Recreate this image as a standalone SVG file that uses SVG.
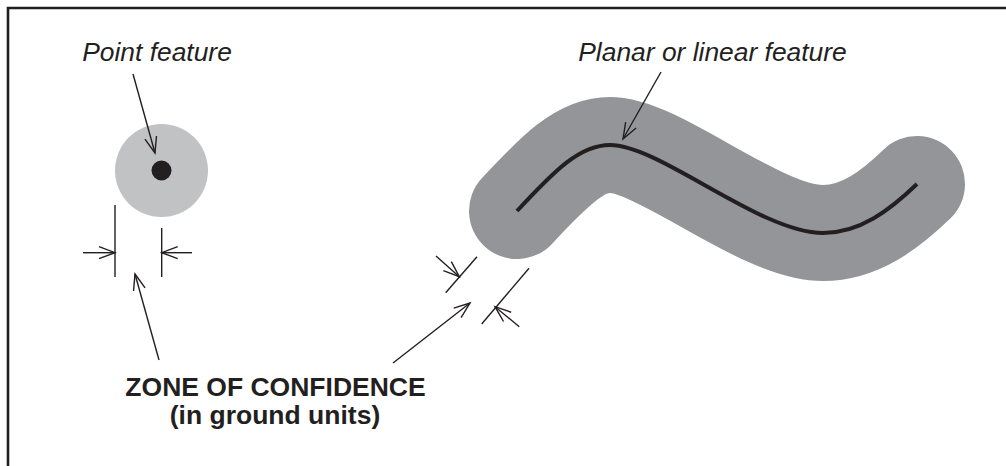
<svg xmlns="http://www.w3.org/2000/svg" width="1006" height="466" viewBox="0 0 1006 466">
<style>
.lbl{font-family:"Liberation Sans",Arial,sans-serif;fill:#231f20;text-anchor:middle}
.it{font-style:italic;font-size:26.4px}
.bd{font-weight:bold;font-size:26.5px}
.ln{stroke:#231f20;stroke-width:1.4;fill:none}
.ar{stroke:#231f20;stroke-width:1.4;fill:none;marker-end:url(#ah)}
</style>
<defs>
<marker id="ah" markerUnits="userSpaceOnUse" markerWidth="20" markerHeight="16" viewBox="-17 -8 20 16" refX="0" refY="0" orient="auto">
<path d="M-16,-6 L0,0 L-16,6" fill="none" stroke="#231f20" stroke-width="1.4"/>
</marker>
</defs>
<rect width="1006" height="466" fill="#ffffff"/>
<g id="frame">
<path d="M8,466 V8 H1006" fill="none" stroke="#231f20" stroke-width="2.6"/>
</g>
<g id="point-feature">
<circle cx="161.5" cy="170.5" r="46.5" fill="#c1c2c4"/>
<circle cx="161.5" cy="170.5" r="10" fill="#231f20"/>
</g>
<g id="linear-feature">
<path d="M517,211 C555,170 580,145 610,145 C660,145 760,233 823,233 C860,233 890,210 917,184" fill="none" stroke="#939598" stroke-width="96" stroke-linecap="round"/>
<path d="M517,211 C555,170 580,145 610,145 C660,145 760,233 823,233 C860,233 890,210 917,184" fill="none" stroke="#231f20" stroke-width="4"/>
</g>
<g id="labels">
<text class="lbl it" x="157" y="61">Point feature</text>
<text class="lbl it" x="712.5" y="61">Planar or linear feature</text>
<text class="lbl bd" x="275.5" y="396">ZONE OF CONFIDENCE</text>
<text class="lbl bd" x="275" y="424">(in ground units)</text>
</g>
<g id="connectors">
<line class="ar" x1="133" y1="74" x2="155" y2="153"/>
<line class="ar" x1="661" y1="72" x2="623" y2="139"/>
<line class="ln" x1="115" y1="205" x2="115" y2="277"/>
<line class="ln" x1="161.7" y1="228" x2="161.7" y2="277"/>
<line class="ar" x1="83" y1="252.7" x2="115" y2="252.7"/>
<line class="ar" x1="192" y1="252.7" x2="161.7" y2="252.7"/>
<line class="ar" x1="159" y1="360" x2="135" y2="274"/>
<line class="ln" x1="445.7" y1="292.7" x2="477" y2="256.7"/>
<line class="ln" x1="481.7" y1="324" x2="529" y2="268.3"/>
<line class="ar" x1="436" y1="256" x2="459.3" y2="276.7"/>
<line class="ar" x1="519.3" y1="326.7" x2="495" y2="306.7"/>
<line class="ar" x1="393" y1="363" x2="470" y2="303"/>
</g>
</svg>
